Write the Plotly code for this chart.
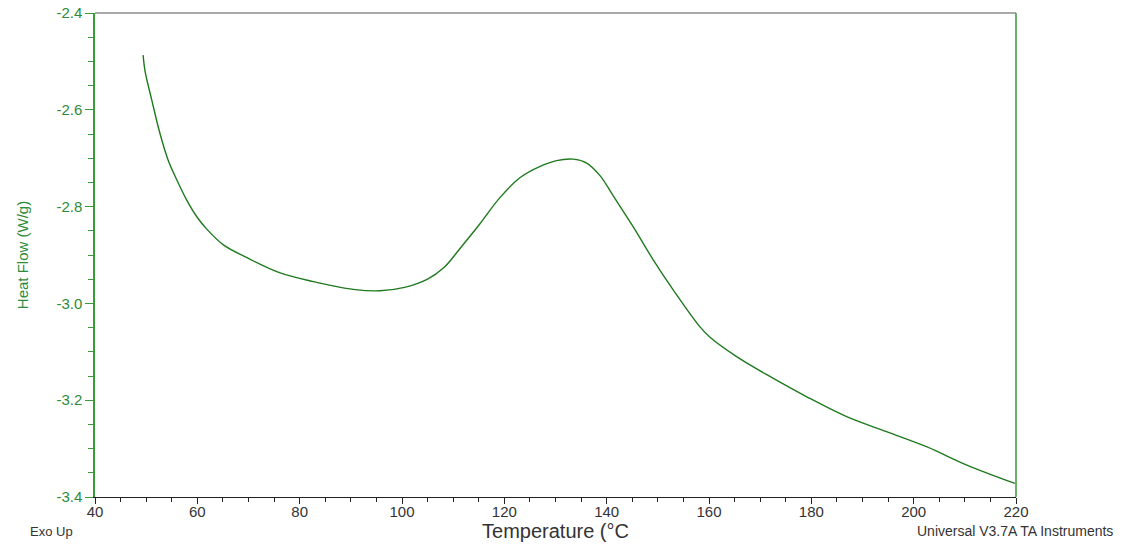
import plotly.graph_objects as go

temperature = [49.4, 49.8, 51.1, 52.7, 54.3, 56.0, 57.9, 59.9, 61.8, 65.1, 69.6, 76.2,
               82.7, 90.5, 95.7, 100.5, 105.0, 108.2, 111.3, 115.2, 119.1, 123.1, 127.0,
               130.2, 133.5, 136.1, 138.7, 141.3, 145.2, 149.1, 153.0, 158.2, 160.2,
               165.4, 171.9, 179.1, 186.9, 194.7, 202.5, 210.4, 219.8]
heat_flow = [-2.487, -2.521, -2.580, -2.649, -2.704, -2.745, -2.786, -2.821, -2.846,
             -2.879, -2.905, -2.937, -2.955, -2.971, -2.974, -2.967, -2.950, -2.926,
             -2.887, -2.836, -2.782, -2.740, -2.717, -2.705, -2.702, -2.710, -2.736,
             -2.778, -2.842, -2.910, -2.972, -3.048, -3.070, -3.110, -3.151, -3.193,
             -3.234, -3.265, -3.296, -3.334, -3.372]

x_ticks = [40, 60, 80, 100, 120, 140, 160, 180, 200, 220]
y_ticks = [-2.4, -2.6, -2.8, -3.0, -3.2, -3.4]
y_tick_text = ["-2.4", "-2.6", "-2.8", "-3.0", "-3.2", "-3.4"]

GREEN_LINE = "#1f7a1f"
GREEN_AXIS = "#3a9a3a"
GREEN_TEXT = "#2e8b3a"
FONT = "Liberation Sans, Arial, sans-serif"

fig = go.Figure()
fig.add_trace(go.Scatter(
    x=temperature, y=heat_flow, mode="lines",
    line=dict(color=GREEN_LINE, width=1.4, shape="spline", smoothing=1.0),
    hoverinfo="skip", showlegend=False,
))

fig.update_layout(
    width=1123, height=546,
    margin=dict(l=95, r=107, t=13, b=49),
    paper_bgcolor="white", plot_bgcolor="white",
    font=dict(family=FONT),
    xaxis=dict(
        range=[40, 220], tickvals=x_ticks, ticks="outside", ticklen=6,
        tickcolor="#222", tickwidth=1, showline=True, linecolor="#222", linewidth=1,
        showgrid=False, zeroline=False, automargin=False, ticklabelstandoff=-5,
        tickfont=dict(size=15, color="#333", family=FONT),
        minor=dict(dtick=5, ticks="outside", ticklen=4, tickcolor="#222", showgrid=False),
        title=dict(text="Temperature (°C", font=dict(size=20, color="#333", family=FONT), standoff=0),
    ),
    yaxis=dict(
        range=[-3.4, -2.4], tickvals=y_ticks, ticktext=y_tick_text, ticks="outside",
        ticklen=8, tickcolor=GREEN_AXIS, tickwidth=1, showline=True, linecolor=GREEN_AXIS,
        linewidth=1.5, showgrid=False, zeroline=False, automargin=False,
        tickfont=dict(size=15, color=GREEN_TEXT, family=FONT),
        minor=dict(dtick=0.05, ticks="outside", ticklen=5, tickcolor=GREEN_AXIS, showgrid=False),
        title=dict(text="Heat Flow (W/g)", font=dict(size=15, color=GREEN_TEXT, family=FONT), standoff=24),
    ),
    shapes=[
        dict(type="line", xref="paper", yref="paper", x0=0, x1=1, y0=1, y1=1,
             line=dict(color="#555", width=1.2)),
        dict(type="line", xref="paper", yref="paper", x0=1, x1=1, y0=0, y1=1,
             line=dict(color=GREEN_AXIS, width=1.5)),
    ],
    annotations=[
        dict(text="Exo Up", xref="paper", yref="paper", x=0, y=0,
             xanchor="left", yanchor="middle", xshift=-67, yshift=-34, showarrow=False,
             font=dict(size=13, color="#333", family=FONT)),
        dict(text="Universal V3.7A TA Instruments", xref="paper", yref="paper",
             x=1.0, y=0, xanchor="right", yanchor="middle", xshift=99, yshift=-34,
             showarrow=False, font=dict(size=14, color="#333", family=FONT)),
    ],
)

fig.write_html("out.html")
